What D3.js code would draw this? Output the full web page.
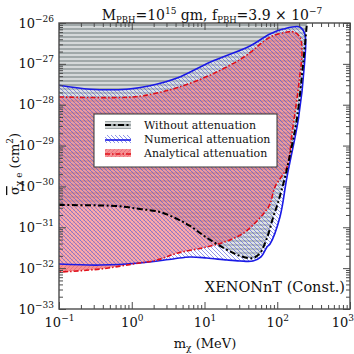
<!DOCTYPE html>
<html><head><meta charset="utf-8">
<script src="https://cdn.jsdelivr.net/npm/d3@7"></script>
<style>
html,body{margin:0;padding:0;background:#fff;}
svg{display:block;font-family:"DejaVu Serif",serif;}
</style></head>
<body><svg id="c" width="354" height="354"></svg>
<script>
// ---- data ----
const xMajorTicks = [0.1, 1, 10, 100, 1000];
const xTickExps = ["\u22121", "0", "1", "2", "3"];
const yMajorTicks = [1e-26, 1e-27, 1e-28, 1e-29, 1e-30, 1e-31, 1e-32, 1e-33];
const yTickExps = ["\u221226", "\u221227", "\u221228", "\u221229", "\u221230", "\u221231", "\u221232", "\u221233"];

// Without attenuation: lower boundary (left -> bottom -> right edge up to top)
const noAttMass  = [0.1, 0.63, 1.3, 2.44, 4.19, 6.32, 10.8, 20.4, 30.7, 46.4, 58.0, 72.3, 87.4, 102, 128, 155, 187, 226, 256];
const noAttSigma = [3.5e-31, 3.3e-31, 2.8e-31, 2.37e-31, 1.6e-31, 1.08e-31, 5.5e-32, 2.8e-32, 1.99e-32, 1.77e-32, 2.35e-32, 5.5e-32, 1.69e-31, 3.9e-31, 1.7e-30, 8e-30, 4.7e-29, 9.4e-28, 1e-26];

// Numerical attenuation: closed contour (upper left->right, right side down, lower right->left)
const numMass  = [0.1, 0.267, 0.86, 1.78, 4.19, 11.9, 42.2, 79.5, 120, 205, 241, 236, 196, 136, 109, 79.5, 72.3, 59.8, 46.4, 30.7, 20.4, 10.8, 6.32, 3.69, 1.30, 0.366, 0.1];
const numSigma = [3.0e-28, 2.4e-28, 2.4e-28, 2.9e-28, 4.5e-28, 1.1e-27, 2.74e-27, 5.4e-27, 7.1e-27, 8.0e-27, 5.1e-27, 9.4e-28, 4.7e-29, 1.7e-30, 1.79e-31, 3.9e-32, 3.3e-32, 1.88e-32, 1.5e-32, 1.5e-32, 1.58e-32, 1.77e-32, 1.88e-32, 1.68e-32, 1.34e-32, 1.19e-32, 1.26e-32];

// Analytical attenuation: closed contour
const anaMass  = [0.1, 1.04, 2.22, 4.19, 11.9, 34.9, 79.5, 136, 170, 205, 219, 199, 160, 136, 93.1, 79.5, 67.9, 52.7, 34.9, 20.4, 10.8, 4.32, 2.22, 1.04, 0.366, 0.1];
const anaSigma = [1.55e-28, 1.55e-28, 1.94e-28, 2.6e-28, 5.3e-28, 1.47e-27, 4.5e-27, 6.0e-27, 6.0e-27, 4.5e-27, 2.2e-27, 3.4e-28, 2.03e-29, 3.0e-30, 9.7e-31, 3.7e-31, 2.37e-31, 1.43e-31, 7.3e-32, 4.6e-32, 3.3e-32, 2.35e-32, 1.58e-32, 1.26e-32, 9.5e-33, 8.0e-33];

const legendLabels = ["Without attenuation", "Numerical attenuation", "Analytical attenuation"];

// ---- layout ----
const L = 59, R = 350, T = 23, B = 309;
const svg = d3.select("#c");
const x = d3.scaleLog().domain([0.1, 1000]).range([L, R]);
const y = d3.scaleLog().domain([1e-33, 1e-26]).range([B, T]);

const defs = svg.append("defs");
defs.append("clipPath").attr("id", "clip").append("rect")
  .attr("x", L).attr("y", T).attr("width", R - L).attr("height", B - T);

// gray horizontal stripes
const pg = defs.append("pattern").attr("id", "pGray").attr("patternUnits", "userSpaceOnUse")
  .attr("width", 4).attr("height", 4);
pg.append("rect").attr("width", 4).attr("height", 4).attr("fill", "#d4d8d9");
pg.append("rect").attr("y", 0).attr("width", 4).attr("height", 2).attr("fill", "#a0a8a9");

// red fill with light diagonal hatch
const pr = defs.append("pattern").attr("id", "pRed").attr("patternUnits", "userSpaceOnUse")
  .attr("width", 4).attr("height", 4);
pr.append("rect").attr("width", 4).attr("height", 4).attr("fill", "#ee3838").attr("opacity", 0.55);
pr.append("path").attr("d", "M-1,5 L5,-1 M-1,1 L1,-1 M3,5 L5,3")
  .attr("stroke", "#d83a6a").attr("stroke-width", 1).attr("opacity", 0.4);

// blue diagonal hatch
const pb = defs.append("pattern").attr("id", "pBlue").attr("patternUnits", "userSpaceOnUse")
  .attr("width", 4).attr("height", 4);
pb.append("rect").attr("width", 4).attr("height", 4).attr("fill", "#ffffff").attr("opacity", 0.25);
pb.append("path").attr("d", "M-1,-1 L5,5 M-1,3 L1,5 M3,-1 L5,1")
  .attr("stroke", "#4452d8").attr("stroke-width", 1).attr("opacity", 0.6);

const toPts = (ms, ss) => ms.map((m, i) => [x(m), y(ss[i])]);
const line = d3.line().curve(d3.curveCatmullRom.alpha(0.5));

const noAttPts = toPts(noAttMass, noAttSigma);
const numPts = toPts(numMass, numSigma);
const anaPts = toPts(anaMass, anaSigma);

const plot = svg.append("g").attr("clip-path", "url(#clip)");

// gray region: above lower boundary
const grayD = line(noAttPts) + `L${x(400)},${y(1e-25)}L${x(0.05)},${y(1e-25)}L${x(0.05)},${noAttPts[0][1]}Z`;
plot.append("path").attr("d", grayD).attr("fill", "url(#pGray)");
// analytical red fill
plot.append("path").attr("d", line(anaPts) + "Z").attr("fill", "url(#pRed)");
// numerical blue hatch
plot.append("path").attr("d", line(numPts) + "Z").attr("fill", "url(#pBlue)");

// boundaries
plot.append("path").attr("d", line(numPts)).attr("fill", "none")
  .attr("stroke", "#1a1ae6").attr("stroke-width", 1.6);
plot.append("path").attr("d", line(anaPts)).attr("fill", "none")
  .attr("stroke", "#e0101a").attr("stroke-width", 1.6).attr("stroke-dasharray", "5,2,1.5,2");
plot.append("path").attr("d", line(noAttPts)).attr("fill", "none")
  .attr("stroke", "#000").attr("stroke-width", 2).attr("stroke-dasharray", "6,2.5,2,2.5");

// ---- axes ----
const axisColor = "#4a4a4a";
function minorVals(lo, hi) {
  const v = [];
  for (let e = lo; e < hi; e++) for (let k = 2; k <= 9; k++) v.push(k * Math.pow(10, e));
  return v;
}
const xMinor = minorVals(-1, 3);
const yMinor = minorVals(-33, -26);

function styleAxis(g) {
  g.select(".domain").remove();
  g.selectAll("line").attr("stroke", axisColor).attr("stroke-width", 1);
}
// bottom
svg.append("g").attr("transform", `translate(0,${B})`)
  .call(d3.axisBottom(x).tickValues(xMinor).tickSize(-4).tickFormat(""))
  .call(styleAxis);
const xb = svg.append("g").attr("transform", `translate(0,${B})`)
  .call(d3.axisBottom(x).tickValues(xMajorTicks).tickSize(-7).tickPadding(12))
  .call(styleAxis);
// top
svg.append("g").attr("transform", `translate(0,${T})`)
  .call(d3.axisTop(x).tickValues(xMinor).tickSize(-4).tickFormat("")).call(styleAxis);
svg.append("g").attr("transform", `translate(0,${T})`)
  .call(d3.axisTop(x).tickValues(xMajorTicks).tickSize(-7).tickFormat("")).call(styleAxis);
// left
svg.append("g").attr("transform", `translate(${L},0)`)
  .call(d3.axisLeft(y).tickValues(yMinor).tickSize(-4).tickFormat("")).call(styleAxis);
const yl = svg.append("g").attr("transform", `translate(${L},0)`)
  .call(d3.axisLeft(y).tickValues(yMajorTicks).tickSize(-7).tickPadding(5))
  .call(styleAxis);
// right
svg.append("g").attr("transform", `translate(${R},0)`)
  .call(d3.axisRight(y).tickValues(yMinor).tickSize(-4).tickFormat("")).call(styleAxis);
svg.append("g").attr("transform", `translate(${R},0)`)
  .call(d3.axisRight(y).tickValues(yMajorTicks).tickSize(-7).tickFormat("")).call(styleAxis);

// power-of-ten labels
xb.selectAll(".tick text").each(function(d, i) {
  const last = i === xTickExps.length - 1;
  const t = d3.select(this).text(null).attr("font-size", 13).attr("fill", "#111")
    .attr("font-family", "DejaVu Serif").attr("dy", null).attr("y", 18)
    .attr("x", last ? 3.5 : 0).attr("text-anchor", last ? "end" : "middle");
  t.append("tspan").text("10");
  t.append("tspan").text(xTickExps[i]).attr("font-size", 9).attr("dy", -6);
});
yl.selectAll(".tick text").each(function(d, i) {
  const t = d3.select(this).text(null).attr("font-size", 13).attr("fill", "#111")
    .attr("font-family", "DejaVu Serif").attr("dy", null).attr("y", 4).attr("x", -5);
  t.append("tspan").text("10");
  t.append("tspan").text(yTickExps[i]).attr("font-size", 9).attr("dy", -6);
});

// frame
svg.append("rect").attr("x", L).attr("y", T).attr("width", R - L).attr("height", B - T)
  .attr("fill", "none").attr("stroke", axisColor).attr("stroke-width", 1.4);

// ---- title ----
const title = svg.append("text").attr("x", 212).attr("y", 19.5).attr("text-anchor", "middle")
  .attr("font-size", 14).attr("fill", "#111");
title.append("tspan").text("M");
title.append("tspan").text("PBH").attr("font-size", 8.5).attr("dy", 3);
title.append("tspan").text("=10").attr("dy", -3);
title.append("tspan").text("15").attr("font-size", 9).attr("dy", -6);
title.append("tspan").text(" gm, f").attr("dy", 6);
title.append("tspan").text("PBH").attr("font-size", 8.5).attr("dy", 3);
title.append("tspan").text("=3.9 \u00d7 10").attr("dy", -3);
title.append("tspan").text("\u22127").attr("font-size", 9).attr("dy", -6);

// axis labels
const xl = svg.append("text").attr("x", 205).attr("y", 348).attr("text-anchor", "middle")
  .attr("font-size", 13).attr("fill", "#111");
xl.append("tspan").text("m");
xl.append("tspan").text("\u03c7").attr("font-size", 9).attr("dy", 3);
xl.append("tspan").text(" (MeV)").attr("dy", -3);

const ylab = svg.append("text").attr("transform", `translate(19,164) rotate(-90)`)
  .attr("text-anchor", "middle").attr("font-size", 13).attr("fill", "#111");
ylab.append("tspan").text("\u03c3").attr("text-decoration", "overline");
ylab.append("tspan").text("\u03c7 e").attr("font-size", 9).attr("dy", 3);
ylab.append("tspan").text(" (cm").attr("dy", -3);
ylab.append("tspan").text("2").attr("font-size", 9).attr("dy", -6);
ylab.append("tspan").text(")").attr("dy", 6);

// annotation
svg.append("text").attr("x", 345).attr("y", 292).attr("text-anchor", "end")
  .attr("font-size", 14.5).attr("fill", "#111").text("XENONnT (Const.)");

// ---- legend ----
const lg = svg.append("g");
lg.append("rect").attr("x", 94).attr("y", 114).attr("width", 183).attr("height", 53)
  .attr("fill", "#fff").attr("stroke", "#333").attr("stroke-width", 1);
const rowsY = [125, 139, 153];
const hx0 = 105, hx1 = 131;
// row 1
lg.append("rect").attr("x", hx0).attr("y", rowsY[0] - 4).attr("width", hx1 - hx0).attr("height", 8).attr("fill", "url(#pGray)");
lg.append("line").attr("x1", hx0).attr("x2", hx1).attr("y1", rowsY[0]).attr("y2", rowsY[0])
  .attr("stroke", "#000").attr("stroke-width", 2).attr("stroke-dasharray", "6,2.5,2,2.5");
// row 2
lg.append("rect").attr("x", hx0).attr("y", rowsY[1] - 4).attr("width", hx1 - hx0).attr("height", 8).attr("fill", "url(#pBlue)");
lg.append("line").attr("x1", hx0).attr("x2", hx1).attr("y1", rowsY[1] + 1).attr("y2", rowsY[1] + 1)
  .attr("stroke", "#1a1ae6").attr("stroke-width", 1.6);
// row 3
lg.append("rect").attr("x", hx0).attr("y", rowsY[2] - 4).attr("width", hx1 - hx0).attr("height", 8).attr("fill", "url(#pRed)");
lg.append("line").attr("x1", hx0).attr("x2", hx1).attr("y1", rowsY[2] + 1).attr("y2", rowsY[2] + 1)
  .attr("stroke", "#e0101a").attr("stroke-width", 1.6).attr("stroke-dasharray", "5,2,1.5,2");
legendLabels.forEach((s, i) => {
  lg.append("text").attr("x", 144).attr("y", rowsY[i] + 4).attr("font-size", 11).attr("fill", "#111").text(s);
});
</script></body></html>
